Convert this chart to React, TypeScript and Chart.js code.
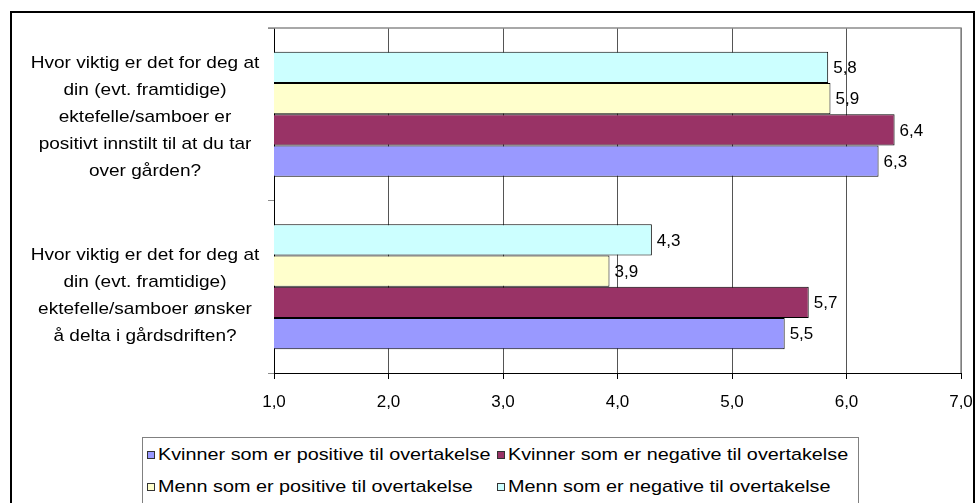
import React, { useEffect, useRef } from "react";
import { Chart, registerables } from "chart.js";

Chart.register(...registerables);

// ---------- data ----------
const categoryLines: string[][] = [
  [
    "Hvor viktig er det for deg at",
    "din (evt. framtidige)",
    "ektefelle/samboer er",
    "positivt innstilt til at du tar",
    "over gården?",
  ],
  [
    "Hvor viktig er det for deg at",
    "din (evt. framtidige)",
    "ektefelle/samboer ønsker",
    "å delta i gårdsdriften?",
  ],
];
const categories = categoryLines.map((l) => l.join(" "));

const kvinnerPositive = [6.28, 5.46];
const kvinnerNegative = [6.42, 5.67];
const mennPositive = [5.86, 3.93];
const mennNegative = [5.84, 4.3];

const seriesNames = [
  "Kvinner som er positive til overtakelse",
  "Kvinner som er negative til overtakelse",
  "Menn som er positive til overtakelse",
  "Menn som er negative til overtakelse",
];
const seriesColors = ["#9999FF", "#993366", "#FFFFCC", "#CCFFFF"];
const seriesValues = [kvinnerPositive, kvinnerNegative, mennPositive, mennNegative];

const xMin = 1;
const xMax = 7;
const xStep = 1;

// ---------- style ----------
const FONT = '"Liberation Sans", Arial, sans-serif';
const CAT_FONT_SIZE = 17;
const CAT_SX = 1.12;
const CAT_LINE_H = 26.8;
const CAT_CENTER_X = 145;
const CAT_DY = [3, 9];
const VAL_FONT_SIZE = 17;
const TICK_FONT_SIZE = 17;
const LEG_FONT_SIZE = 17;
const LEG_SX = 1.165;

const fmt = (v: number) => v.toFixed(1).replace(".", ",");

const categoryLabelPlugin = {
  id: "categoryLabels",
  afterDraw(chart: any) {
    const ctx = chart.ctx;
    const y = chart.scales.y;
    ctx.save();
    ctx.fillStyle = "#000";
    ctx.font = `${CAT_FONT_SIZE}px ${FONT}`;
    ctx.textAlign = "center";
    ctx.textBaseline = "middle";
    categoryLines.forEach((lines, i) => {
      const cy = y.getPixelForValue(i) + CAT_DY[i];
      lines.forEach((line, j) => {
        const ly = cy + (j - (lines.length - 1) / 2) * CAT_LINE_H;
        ctx.save();
        ctx.translate(CAT_CENTER_X, ly);
        ctx.scale(CAT_SX, 1);
        ctx.fillText(line, 0, 0);
        ctx.restore();
      });
    });
    ctx.restore();
  },
};

const valueLabelPlugin = {
  id: "valueLabels",
  afterDatasetsDraw(chart: any) {
    const ctx = chart.ctx;
    ctx.save();
    ctx.fillStyle = "#000";
    ctx.font = `${VAL_FONT_SIZE}px ${FONT}`;
    ctx.textAlign = "left";
    ctx.textBaseline = "middle";
    chart.data.datasets.forEach((ds: any, di: number) => {
      const meta = chart.getDatasetMeta(di);
      meta.data.forEach((el: any, i: number) => {
        ctx.fillText(fmt(ds.data[i]), el.x + 5, el.y + 1);
      });
    });
    ctx.restore();
  },
};

const plotBorderPlugin = {
  id: "plotBorder",
  beforeDatasetsDraw(chart: any) {
    const { ctx, chartArea } = chart;
    ctx.save();
    ctx.strokeStyle = "#8c8c8c";
    ctx.lineWidth = 1.5;
    ctx.beginPath();
    ctx.moveTo(chartArea.left - 6, chartArea.top);
    ctx.lineTo(chartArea.right, chartArea.top);
    ctx.lineTo(chartArea.right, chartArea.bottom);
    ctx.stroke();
    ctx.restore();
  },
};

export default function App() {
  const canvasRef = useRef<HTMLCanvasElement | null>(null);

  useEffect(() => {
    if (!canvasRef.current) return;
    // top-to-bottom within a category: Menn neg, Menn pos, Kvinner neg, Kvinner pos
    const order = [3, 2, 1, 0];
    const chart = new Chart(canvasRef.current, {
      type: "bar",
      data: {
        labels: categories,
        datasets: order.map((k) => ({
          label: seriesNames[k],
          data: seriesValues[k],
          backgroundColor: seriesColors[k],
          borderColor: "#000",
          borderWidth: 1,
          borderSkipped: false,
          categoryPercentage: 0.725,
          barPercentage: 1,
        })),
      },
      options: {
        indexAxis: "y",
        responsive: false,
        maintainAspectRatio: false,
        animation: false,
        events: [],
        layout: { padding: { left: 268, top: 28, right: 15, bottom: 90.6 } },
        plugins: {
          legend: { display: false },
          tooltip: { enabled: false },
          title: { display: false },
        },
        scales: {
          x: {
            type: "linear",
            min: xMin,
            max: xMax,
            ticks: {
              stepSize: xStep,
              callback: (v: any) => fmt(Number(v)),
              font: { family: FONT, size: TICK_FONT_SIZE },
              color: "#000",
              padding: 13,
              maxRotation: 0,
            },
            grid: { color: "#555", tickColor: "#000", tickLength: 6, lineWidth: 1 },
            border: { color: "#000", width: 1 },
            afterFit: (s: any) => {
              s.height = 39.4;
              s.paddingLeft = 0;
              s.paddingRight = 0;
              s.paddingTop = 0;
              s.paddingBottom = 0;
            },
          },
          y: {
            type: "category",
            offset: true,
            ticks: { display: false },
            grid: { offset: true, drawOnChartArea: false, tickLength: 6, color: "#8c8c8c" },
            border: { color: "#000", width: 1 },
            afterFit: (s: any) => {
              s.width = 6;
              s.paddingLeft = 0;
              s.paddingRight = 0;
              s.paddingTop = 0;
              s.paddingBottom = 0;
            },
          },
        },
      },
      plugins: [plotBorderPlugin, valueLabelPlugin, categoryLabelPlugin],
    } as any);
    return () => chart.destroy();
  }, []);

  const legendPos = [
    { left: 4, top: 17 },
    { left: 354, top: 17 },
    { left: 4, top: 49 },
    { left: 354, top: 49 },
  ];

  return (
    <div
      style={{
        position: "absolute",
        left: 0,
        top: 0,
        width: 976,
        height: 503,
        overflow: "hidden",
        background: "#fff",
      }}
    >
      <div
        style={{
          position: "absolute",
          left: 10,
          top: 11,
          width: 965,
          height: 540,
          border: "2px solid #000",
          boxSizing: "border-box",
        }}
      />
      <canvas
        ref={canvasRef}
        width={976}
        height={503}
        style={{ position: "absolute", left: 0, top: 0, display: "block" }}
      />
      <div
        style={{
          position: "absolute",
          left: 142,
          top: 437,
          width: 717,
          height: 90,
          border: "1px solid #808080",
          boxSizing: "border-box",
          background: "#fff",
          fontFamily: FONT,
          fontSize: LEG_FONT_SIZE,
          color: "#000",
        }}
      >
        {seriesNames.map((name, i) => (
          <div
            key={name}
            style={{
              position: "absolute",
              left: legendPos[i].left,
              top: legendPos[i].top - 10,
              height: 20,
              display: "flex",
              alignItems: "center",
              whiteSpace: "nowrap",
            }}
          >
            <span
              style={{
                display: "inline-block",
                width: 6,
                height: 6,
                border: "1px solid #333",
                background: seriesColors[i],
                marginRight: 3,
              }}
            />
            <span
              style={{
                display: "inline-block",
                transform: `scaleX(${LEG_SX})`,
                transformOrigin: "left center",
                lineHeight: "20px",
              }}
            >
              {name}
            </span>
          </div>
        ))}
      </div>
    </div>
  );
}
